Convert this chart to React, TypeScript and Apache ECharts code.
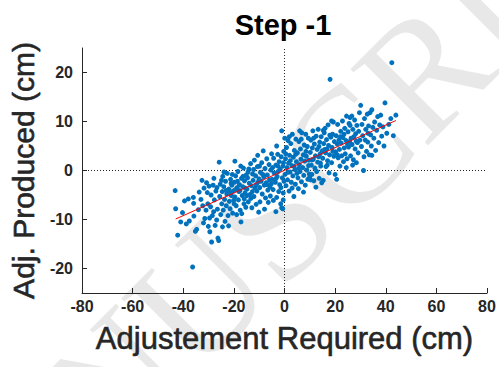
import React, { useEffect, useRef } from "react";
import * as echarts from "echarts";

const titleText = "Step -1";
const xName = "Adjustement Required (cm)";
const yName = "Adj. Produced (cm)";
const xMin = -80;
const xMax = 80;
const xStep = 20;
const yMin = -25;
const yMax = 25;
const yTicks = [-20, -10, 0, 10, 20];
const fitX = [-43, 44];
const fitY = [-9.9, 10.2];
const watermarkText = "MANUSCRIPT";

// [adjustment required, adjustment produced]
const samples: [number, number][] = [
  [-43.2, -4.1], [-43, -7.8], [-42.2, -13.2], [-41, -10.5], [-40.3, -8.6],
  [-39.5, -6.2], [-38.8, -10.9], [-38, -5.8], [-37.6, -10.3], [-36.3, -19.7], [-36, -5.5], [-35.9, -6.7], [-35.8, -9.3], [-35.2, -12.4],
  [-34.7, -12], [-34, -8], [-33.7, -4.4], [-33, -5.9], [-32.6, -2], [-32.3, -7.2], [-32, -10.7], [-31.5, -9.8], [-31, -8.1], [-30.8, -2.5], [-30.5, -4.5], [-30.3, -6.8], [-30.1, -11.4], [-31.8, -3.6],
  [-29.8, -3.2], [-29.5, -12.5], [-29.2, -7.4], [-29, -5], [-28.8, -14.6], [-28.5, -9.2], [-28.2, -3], [-28, -8.4], [-27.7, -6], [-27.4, -11.2], [-27.1, -4.2], [-26.8, -10.1], [-26.5, -7.9], [-26.3, -13.8], [-26, -14.3], [-25.8, 1.7], [-25.6, -5.3], [-25.4, -2.8], [-25.2, -9], [-27.9, -1.6], [-26.7, -3.5], [-29.6, -9.7],
  [-24.8, -6.8], [-24.6, -4.3], [-24.4, -1.2], [-24.2, -8.1], [-24, -3.3], [-23.7, -5.9], [-23.5, -10.4], [-23.3, -2.2], [-23, -7.2], [-22.8, -4.8], [-22.6, -0.6], [-22.3, -9.2], [-22, -3.8], [-21.8, -6.3], [-21.5, -7.8], [-21.3, -1.8], [-21, -5.1], [-20.8, -3], [-20.5, -8.7], [-20.3, -4.2], [-19.6, 1.9], [-20.1, -6.1], [-24.9, -2], [-23.9, -0.3], [-22.1, -11.3], [-21.1, -2.6], [-20.6, -0.8], [-23.1, -4.1], [-24.5, -11.5], [-21.7, -4.5],
  [-19.8, -2.4], [-19.6, -5.4], [-19.3, -1.1], [-19.1, -7.2], [-18.9, -9], [-18.7, -3.5], [-18.4, -0.2], [-18.2, -6], [-18, -4.3], [-17.8, -2.9], [-17.5, -8.1], [-17.2, -10.5], [-17, -1.6], [-16.9, -8.8], [-16.7, -5.1], [-16.5, -3.3], [-16.2, 0.5], [-16, -6.8], [-15.8, -2.1], [-15.6, -4.6], [-15.3, -7.5], [-15.1, -0.9], [-19.4, -3.9], [-18.6, -2.2], [-17.6, -4.1], [-16.4, -1.2], [-15.5, -3.6], [-19.9, -6.8], [-17.3, 0.9], [-15.9, -5.8],
  [-14.8, -3.8], [-14.6, -1.5], [-14.3, -6.4], [-14.1, 0.3], [-13.9, -2.6], [-13.6, -4.9], [-13.4, 1.4], [-13.1, -3.1], [-12.9, -7.6], [-12.6, -0.7], [-12.4, -2], [-12.1, -5.3], [-11.9, 2.1], [-11.7, -3.6], [-11.4, -1.1], [-11.2, -6.9], [-10.9, -4.2], [-10.7, 0.8], [-10.5, -2.4], [-10.2, -8.5], [-10.1, -1.7], [-14.4, -0.3], [-13.3, -5.7], [-12.2, 0.2], [-11.1, -2.9], [-14.9, -5.1], [-12.7, -4.3], [-10.6, 3.1],
  [-9.8, -3.5], [-9.7, -6.4], [-9.5, -0.4], [-9.2, -2.2], [-9, 1.6], [-8.8, -4.8], [-8.4, 4], [-8.2, -1.3], [-8, -3], [-7.7, 0.4], [-7.5, -5.6], [-7.2, -2.5], [-7, 2.4], [-6.8, -0.9], [-6.6, -4], [-6.4, -6.5], [-6.1, 1.2], [-5.9, -1.9], [-5.7, -3.4], [-5.4, 0.1], [-5.2, -2.7], [-5.1, 3.4], [-9.9, 0.9], [-8.6, -0.8], [-7.9, -7.9], [-6.9, -2.9], [-5.6, -5.2],
  [-4.9, -1.8], [-4.7, 0.6], [-4.5, -3.9], [-4.3, 2.5], [-4.1, -0.5], [-3.4, -8.4], [-3.6, -2.4], [-3.4, 1.1], [-3.1, 5], [-3.1, -5.5], [-2.9, -1.2], [-2.7, 3.3], [-2.5, -0.2], [-2.3, -4.3], [-2.1, 1.8], [-1.9, -2.9], [-1.7, 0.3], [-1.5, -6.8], [-1.3, 2.8], [-1.1, 8.1], [-1.1, -7.6], [-0.9, -1.5], [-0.7, -7.8], [-0.6, 0.9], [-0.5, -4.6], [-0.5, -6], [-0.3, 3.9], [-0.2, -2.2], [-4.4, -6.1], [-3.3, -1.6], [-2.6, 0.9], [-1.4, -3.5], [-0.4, 1.6],
  [0.2, -0.8], [0.4, 2.4], [0.6, -3.1], [0.8, 4.7], [1, 0.6], [1.2, -1.9], [1.4, 6.1], [1.6, 1.5], [1.8, -4.2], [2, 3.1], [2.2, -0.3], [2.5, 5.5], [2.7, -2.4], [2.9, 1], [3.1, 7.4], [3.3, -1.1], [3.5, 2.7], [3.7, -5.3], [3.9, 4.1], [4.1, 0.2], [4.3, -2.8], [4.5, 6.4], [4.7, 1.8], [4.9, -0.6], [0.5, 3.4], [1.3, -0.4], [2.3, 2], [3, -3.6], [3.8, 0.9], [4.4, 3.3], [1.9, 6.9], [0.1, 6.6],
  [5.1, 3.6], [5.3, -1.5], [5.5, -3.7], [5.7, 5.9], [5.9, 1.2], [6.1, -0.2], [6.3, 4.4], [6.5, 2.3], [6.7, -2.3], [6.8, 7.7], [7.2, 0.6], [7.4, 3.2], [7.6, -1], [7.8, 5.2], [8, 1.9], [8.2, -3], [8.4, 7.4], [8.6, 2.9], [8.8, 0.1], [9, 4.9], [9.2, -1.8], [9.4, 6.6], [9.6, 2.1], [9.8, -0.7], [10, -1.3], [5.6, 0.4], [6.6, 6.4], [7.5, -4.4], [8.5, 3.9], [9.5, 1], [6, 8.1],
  [10.2, 3.7], [10.4, 6.2], [10.6, 1.1], [10.8, -0.8], [11, 4.6], [11.2, 8.1], [11.4, 2.3], [11.6, -2.1], [11.8, 5.4], [12, 0.5], [12.2, 3], [12.5, 7], [12.7, -0.2], [12.9, 4.3], [13.1, 1.7], [13.3, 8.4], [13.5, 2.8], [13.7, -1.6], [13.9, 5.8], [14.1, 3.4], [14.3, 0.9], [14.5, 6.9], [14.7, -2.5], [14.9, 4], [10.9, 2.2], [12.4, -3.4], [13.6, 4.9], [11.5, 6.6], [14.2, 1.5], [10.3, -1.9],
  [15.1, 2.5], [15.3, -2], [15.5, 5.5], [15.7, 7.7], [16, 8.6], [16.2, 3.6], [16.4, 0.8], [16.6, 6.3], [16.8, 4.4], [17, 2], [17.2, 9.3], [17.4, 5.1], [17.6, -0.5], [17.8, 3.2], [18, 18.6], [18.6, 10.1], [18.3, 6.8], [18.6, 1.6], [18.8, 4.7], [19, 7.4], [19.3, 9.9], [19.5, 2.9], [19.7, 5.9], [20, -0.8], [15.9, 4.3], [16.9, 1.1], [17.9, 7.2], [19.1, 3.9], [15.3, 8.2],
  [20.2, 3.8], [20.4, 7.1], [20.6, -1.8], [20.8, 5.4], [21, 9.4], [21.2, 2.6], [21.5, 6.2], [21.7, 4.3], [21.9, 0.9], [22.2, 8], [22.4, 5.6], [22.6, 3], [22.9, 10.1], [23.1, 6.7], [23.3, 1.8], [23.6, 4.6], [23.8, 8.6], [24, 3.4], [24.3, 6.1], [24.5, 11.1], [24.7, 2.4], [24.9, 5.3], [20.9, 3.2], [22.1, 6.9], [23.5, 7.4], [24.4, 0.6],
  [25.1, 7.9], [25.3, 4.8], [25.5, 9.6], [25.9, 9.2], [25.9, 10.8], [26.1, 3], [26.3, 6.6], [26.6, 11.1], [26.7, 5.3], [27, 8.4], [27.2, 2.2], [27.4, 6.9], [27.7, 10.3], [27.9, 4.4], [28.1, 7.5], [28.4, 1.6], [28.6, 9.2], [28.8, 5.7], [29.1, 3.6], [29.3, 8], [29.6, 11.8], [29.8, 6.2], [30.1, 13.3], [25.7, 5.9], [26.9, 1.1], [28.3, 6],
  [30.4, 4.9], [30.6, 9.4], [30.9, 7.1], [31.2, 0], [31.4, 2.8], [31.6, 10.6], [31.9, 6.2], [32.1, 8.4], [32.4, 3.9], [32.7, 11.5], [32.9, 5.8], [33.2, 9.1], [33.5, 3.2], [33.8, 11.8], [34, 7.3], [34.3, 5], [34.5, 12.4], [34.5, 3.1], [34.9, 8.8], [33, 7.6],
  [35.3, 6.6], [35.6, 9.9], [36, 4.1], [36.4, 8.2], [36.8, 11], [37.2, 5.7], [37.6, 9.3], [38, 11.3], [38.4, 7], [38.9, 8.9], [39.3, 5], [39.7, 13.8],
  [40.4, 7.6], [41.2, 9.4], [42, 10.6], [42.4, 22], [43, 7.1], [44, 11.3],
];

export default function App() {
  const ref = useRef<HTMLDivElement>(null);
  useEffect(() => {
    const chart = echarts.init(ref.current!, null, { renderer: "svg" });
    const font = "'Liberation Sans', Arial, sans-serif";
    const axisColor = "#262626";
    chart.setOption({
      animation: false,
      backgroundColor: "#ffffff",
      grid: { left: 82, right: 12, top: 48, bottom: 74 },
      graphic: [
        {
          type: "text",
          x: -118,
          y: 612,
          rotation: Math.PI / 4,
          z: -10,
          silent: true,
          style: {
            text: watermarkText,
            fontSize: 166,
            fontFamily: "'Liberation Serif', 'DejaVu Serif', serif",
            fill: "rgba(0,0,0,0.09)",
            textAlign: "left",
            textVerticalAlign: "middle",
          },
        },
        {
          type: "text",
          x: 283,
          y: 10,
          style: {
            text: titleText,
            fontSize: 29,
            fontWeight: "bold",
            fontFamily: font,
            fill: "#000000",
            textAlign: "center",
            textVerticalAlign: "top",
          },
        },
      ],
      xAxis: {
        type: "value",
        min: xMin,
        max: xMax,
        interval: xStep,
        axisLine: { show: true, onZero: false, lineStyle: { color: axisColor, width: 1 } },
        axisTick: { show: true, inside: true, length: 5, lineStyle: { color: axisColor } },
        axisLabel: { color: axisColor, fontSize: 16, fontWeight: "bold", fontFamily: font, margin: 5 },
        splitLine: { show: false },
        name: xName,
        nameLocation: "middle",
        nameGap: 30,
        nameTextStyle: {
          fontSize: 31,
          fontFamily: font,
          color: axisColor,
          textBorderColor: axisColor,
          textBorderWidth: 0.6,
        },
      },
      yAxis: {
        type: "value",
        min: yMin,
        max: yMax,
        axisLine: { show: true, onZero: false, lineStyle: { color: axisColor, width: 1 } },
        axisTick: { show: true, inside: true, length: 5, customValues: yTicks, lineStyle: { color: axisColor } },
        axisLabel: { customValues: yTicks, color: axisColor, fontSize: 16, fontWeight: "bold", fontFamily: font, margin: 9 },
        splitLine: { show: false },
        name: yName,
        nameLocation: "middle",
        nameGap: 40,
        nameTextStyle: {
          fontSize: 30,
          fontFamily: font,
          color: axisColor,
          textBorderColor: axisColor,
          textBorderWidth: 0.6,
        },
      },
      series: [
        {
          type: "line",
          data: [[0, yMin], [0, yMax]],
          symbol: "none",
          silent: true,
          z: 1,
          lineStyle: { color: axisColor, width: 1, type: [1, 2] },
        },
        {
          type: "line",
          data: [[xMin, 0], [xMax, 0]],
          symbol: "none",
          silent: true,
          z: 1,
          lineStyle: { color: axisColor, width: 1, type: [1, 2] },
        },
        {
          type: "scatter",
          data: samples,
          symbolSize: 5,
          z: 3,
          itemStyle: { color: "#0072BD", opacity: 1 },
        },
        {
          type: "line",
          data: fitX.map((x, i) => [x, fitY[i]]),
          symbol: "none",
          z: 4,
          lineStyle: { color: "#ff0000", width: 1 },
        },
      ],
    });
    return () => chart.dispose();
  }, []);
  return (
    <div
      ref={ref}
      style={{ position: "fixed", left: 0, top: 0, width: 499, height: 367 }}
    />
  );
}
